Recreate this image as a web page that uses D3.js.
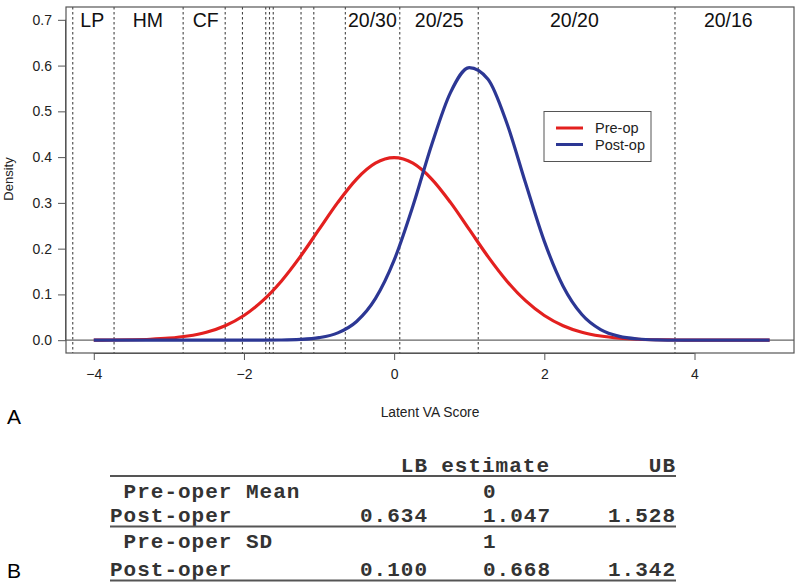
<!DOCTYPE html>
<html><head><meta charset="utf-8">
<script src="https://cdn.jsdelivr.net/npm/d3@7"></script>
<style>body{margin:0;background:#fff}svg{display:block}</style>
</head><body><svg id="c" width="800" height="586"></svg>
<script>
// ---- data ----
const xGrid = [-4,-3.75,-3.5,-3.25,-3,-2.75,-2.5,-2.25,-2,-1.75,-1.5,-1.25,-1,-0.75,-0.5,-0.25,0,0.25,0.5,0.75,1,1.25,1.5,1.75,2,2.25,2.5,2.75,3,3.25,3.5,3.75,4,4.25,4.5,4.75,5];
const preOp = [0.0001,0.0004,0.0009,0.0020,0.0044,0.0091,0.0175,0.0317,0.0540,0.0863,0.1295,0.1826,0.2420,0.3011,0.3521,0.3867,0.3989,0.3867,0.3521,0.3011,0.2420,0.1826,0.1295,0.0863,0.0540,0.0317,0.0175,0.0091,0.0044,0.0020,0.0009,0.0004,0.0001,0,0,0,0];
const postOp = [0,0,0,0,0,0,0,0,0,0.0001,0.0004,0.0016,0.0055,0.0160,0.0409,0.0907,0.1748,0.2931,0.4271,0.5410,0.5957,0.5703,0.4746,0.3433,0.2159,0.1180,0.0561,0.0232,0.0083,0.0026,0.0007,0.0002,0,0,0,0,0];
const cutoffs = [-4.28,-3.73,-2.81,-2.25,-2.02,-1.71,-1.66,-1.61,-1.24,-1.07,-0.65,0.075,1.12,3.74];
const zoneLabels = ["LP","HM","CF","20/30","20/25","20/20","20/16"];
const zoneLabelX = [-4.02,-3.28,-2.51,-0.29,0.6,2.4,4.45];
const xTicks = [-4,-2,0,2,4];
const yTicks = [0,0.1,0.2,0.3,0.4,0.5,0.6,0.7];
const seriesNames = ["Pre-op","Post-op"];
const tableHeader = ["LB","estimate","UB"];
const tableRows = [
  {label:" Pre-oper Mean", lb:"", est:"0", ub:"", rule:false},
  {label:"Post-oper", lb:"0.634", est:"1.047", ub:"1.528", rule:true},
  {label:" Pre-oper SD", lb:"", est:"1", ub:"", rule:false},
  {label:"Post-oper", lb:"0.100", est:"0.668", ub:"1.342", rule:true}
];

// ---- chart ----
const svg = d3.select("#c");
const colors = ["#e3201f","#2c3794"];
const L=66, R=794, T=7, B=353;
const x = d3.scaleLinear().domain([-4.37,5.325]).range([L,R]);
const y = d3.scaleLinear().domain([-0.028,0.728]).range([B,T]);
const font = "Liberation Sans, Arial, Helvetica, sans-serif";

// cutoff lines
svg.append("g").selectAll("line").data(cutoffs).join("line")
  .attr("x1",d=>x(d)).attr("x2",d=>x(d)).attr("y1",T).attr("y2",B)
  .attr("stroke","#444").attr("stroke-width",1.1).attr("stroke-dasharray","2.5,2.5");

// zero line
svg.append("line").attr("x1",L).attr("x2",R).attr("y1",y(0)).attr("y2",y(0))
  .attr("stroke","#666").attr("stroke-width",1.2);

// curves
const series = [preOp, postOp];
const line = d3.line().x((d,i)=>x(xGrid[i])).y(d=>y(d)).curve(d3.curveMonotoneX);
series.forEach((s,k)=>{
  svg.append("path").datum(s).attr("d",line).attr("fill","none")
    .attr("stroke",colors[k]).attr("stroke-width",3.2).attr("stroke-linejoin","round");
});

// box
svg.append("rect").attr("x",L).attr("y",T).attr("width",R-L).attr("height",B-T)
  .attr("fill","none").attr("stroke","#555").attr("stroke-width",1.2);

// axes
const xAxis = d3.axisBottom(x).tickValues(xTicks).tickSize(7).tickPadding(9)
  .tickFormat(d=>d<0?"\u2212"+Math.abs(d):d);
const gx = svg.append("g").attr("transform",`translate(0,${B})`).call(xAxis);
gx.select(".domain").attr("d",`M${x(-4)},0.5H${x(4)}`).attr("stroke","#555");
const yAxis = d3.axisLeft(y).tickValues(yTicks).tickSize(8).tickPadding(6).tickFormat(d3.format(".1f"));
const gy = svg.append("g").attr("transform",`translate(${L},0)`).call(yAxis);
gy.select(".domain").attr("d",`M-0.5,${y(0)}V${y(0.7)}`).attr("stroke","#555");
[gx,gy].forEach(g=>{
  g.selectAll("text").attr("font-family",font).attr("font-size",14).attr("fill","#222");
  g.selectAll(".tick line").attr("stroke","#555");
});

// zone labels
svg.append("g").selectAll("text").data(zoneLabels).join("text")
  .attr("x",(d,i)=>x(zoneLabelX[i])).attr("y",27).attr("text-anchor","middle")
  .attr("font-family",font).attr("font-size",19.5).attr("fill","#111").text(d=>d);

// axis titles
svg.append("text").attr("x",(L+R)/2).attr("y",417).attr("text-anchor","middle")
  .attr("font-family",font).attr("font-size",13.8).attr("fill","#222").text("Latent VA Score");
svg.append("text").attr("transform","translate(13,179) rotate(-90)").attr("text-anchor","middle")
  .attr("font-family",font).attr("font-size",13).attr("fill","#222").text("Density");

// legend
svg.append("rect").attr("x",544).attr("y",111.5).attr("width",107).attr("height",50)
  .attr("fill","#fff").attr("stroke","#555").attr("stroke-width",1);
seriesNames.forEach((n,i)=>{
  const yy = 128 + i*16.5;
  svg.append("line").attr("x1",556).attr("x2",583).attr("y1",yy).attr("y2",yy)
    .attr("stroke",colors[i]).attr("stroke-width",3);
  svg.append("text").attr("x",595).attr("y",yy+5).attr("font-family",font)
    .attr("font-size",14.5).attr("fill","#222").text(n);
});

// panel letters
svg.append("text").attr("x",7).attr("y",424).attr("font-family",font).attr("font-size",21).attr("fill","#000").text("A");
svg.append("text").attr("x",7).attr("y",578).attr("font-family",font).attr("font-size",21).attr("fill","#000").text("B");

// table
const mono = "Liberation Mono, Courier New, monospace";
const tx0=110, tx1=676;
const colRight = [428, 550, 676];
const colEstLeft = 483;
const tg = svg.append("g").attr("font-family",mono).attr("font-weight","bold")
  .attr("font-size",21).attr("fill","#333").attr("letter-spacing","1");
tableHeader.forEach((h,i)=>{
  tg.append("text").attr("x",colRight[i]).attr("y",472).attr("text-anchor","end").text(h);
});
svg.append("line").attr("x1",tx0).attr("x2",tx1).attr("y1",476).attr("y2",476).attr("stroke","#555").attr("stroke-width",1.8);
const rowY = [498, 522, 548, 576];
tableRows.forEach((r,i)=>{
  tg.append("text").attr("x",110).attr("y",rowY[i]).attr("xml:space","preserve").text(r.label);
  if(r.lb) tg.append("text").attr("x",colRight[0]).attr("y",rowY[i]).attr("text-anchor","end").text(r.lb);
  tg.append("text").attr("x",colEstLeft).attr("y",rowY[i]).text(r.est);
  if(r.ub) tg.append("text").attr("x",colRight[2]).attr("y",rowY[i]).attr("text-anchor","end").text(r.ub);
  if(r.rule) svg.append("line").attr("x1",tx0).attr("x2",tx1).attr("y1",rowY[i]+4.5).attr("y2",rowY[i]+4.5)
    .attr("stroke","#555").attr("stroke-width",1.8);
});
</script></body></html>
